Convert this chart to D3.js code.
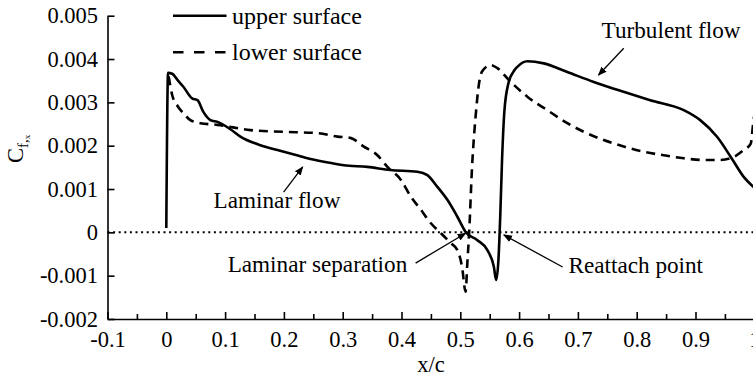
<!DOCTYPE html>
<html>
<head>
<meta charset="utf-8">
<script src="https://cdn.jsdelivr.net/npm/d3@7"></script>
<style>
  body { margin: 0; background: #fff; }
</style>
</head>
<body>
<svg id="chart"></svg>
<script>
// x/c, Cf
let upperSurface = [
  [0, 0.0001], [0.003, 0.00368], [0.01, 0.00366], [0.02, 0.0035], [0.029, 0.00336],
  [0.044, 0.00309], [0.053, 0.00305], [0.063, 0.00278], [0.075, 0.00259], [0.087, 0.00255],
  [0.109, 0.00238], [0.126, 0.00221], [0.16, 0.00201], [0.189, 0.0019], [0.211, 0.00182],
  [0.24, 0.00171], [0.268, 0.00163], [0.302, 0.00155], [0.342, 0.00151], [0.381, 0.00144],
  [0.427, 0.0014], [0.444, 0.00132], [0.461, 0.00105], [0.478, 0.00075], [0.495, 0.00036],
  [0.509, 0.00001], [0.529, -0.00018], [0.546, -0.00041], [0.557, -0.00079], [0.561, -0.0011],
  [0.565, -0.0006], [0.568, 0.0004], [0.571, 0.00167], [0.575, 0.0028], [0.582, 0.00345],
  [0.59, 0.0037], [0.597, 0.00382], [0.614, 0.00395], [0.642, 0.0039], [0.682, 0.0037],
  [0.727, 0.00347], [0.767, 0.00329], [0.823, 0.00305], [0.88, 0.00282], [0.908, 0.00259],
  [0.937, 0.0022], [0.96, 0.00174], [0.982, 0.00128], [1.0, 0.00103]
];
let lowerSurface = [
  [0.004, 0.0036], [0.01, 0.00317], [0.02, 0.0029], [0.029, 0.00275], [0.041, 0.00259],
  [0.058, 0.00252], [0.087, 0.00248], [0.143, 0.00236], [0.199, 0.00232], [0.257, 0.00229],
  [0.291, 0.00221], [0.313, 0.00218], [0.336, 0.00198], [0.359, 0.00178], [0.376, 0.00151],
  [0.399, 0.00121], [0.416, 0.00082], [0.433, 0.00052], [0.45, 0.00021], [0.467, -0.00002],
  [0.484, -0.00025], [0.495, -0.00041], [0.503, -0.0008], [0.509, -0.00137], [0.512, -0.0007],
  [0.515, -0.00002], [0.52, 0.00151], [0.526, 0.00267], [0.532, 0.00345], [0.537, 0.00371],
  [0.552, 0.00386], [0.563, 0.00379], [0.583, 0.00351], [0.614, 0.00313], [0.648, 0.00282],
  [0.682, 0.00252], [0.71, 0.00232], [0.744, 0.00213], [0.778, 0.00198], [0.812, 0.00186],
  [0.846, 0.00178], [0.88, 0.00171], [0.914, 0.00167], [0.942, 0.00167], [0.965, 0.00174],
  [0.982, 0.0019], [0.994, 0.00205], [0.998, 0.0025], [1.0, 0.0027]
];

let xTicks = [-0.1, 0, 0.1, 0.2, 0.3, 0.4, 0.5, 0.6, 0.7, 0.8, 0.9, 1.0];
let xMinorTicks = [-0.05, 0.05, 0.15, 0.25, 0.35, 0.45, 0.55, 0.65, 0.75, 0.85, 0.95];
let yTicks = [-0.002, -0.001, 0, 0.001, 0.002, 0.003, 0.004, 0.005];

let legendItems = [
  {label: 'upper surface', dash: null},
  {label: 'lower surface', dash: '10.5,10.5'}
];

// text: label, anchor in data units; arrow: tail -> tip in data units
let notes = [
  {text: 'Turbulent flow', at: [0.7403, 0.004484], from: [0.778, 0.00425], to: [0.735, 0.00363]},
  {text: 'Laminar flow', at: [0.0804, 0.00056], from: [0.1995, 0.00093], to: [0.232, 0.00151]},
  {text: 'Laminar separation', at: [0.1043, -0.000907], from: [0.424, -0.00071], to: [0.509, -0.00002]},
  {text: 'Reattach point', at: [0.684, -0.00094], from: [0.674, -0.0008], to: [0.574, -0.00006]}
];

let width = 753, height = 379;
let serif = '"Liberation Serif", Tinos, "Times New Roman", "DejaVu Serif", serif';
let fontSize = '22.5px';

let svg = d3.select('#chart')
    .attr('width', width)
    .attr('height', height)
    .style('font-family', serif);

let x = d3.scaleLinear().domain([-0.1, 1.0]).range([107.5, 754.3]);
let y = d3.scaleLinear().domain([-0.002, 0.005]).range([319, 15.7]);

// zero line
svg.append('line')
    .attr('x1', x(-0.1)).attr('x2', x(1.0))
    .attr('y1', y(0)).attr('y2', y(0))
    .attr('stroke', '#000')
    .attr('stroke-width', 2)
    .attr('stroke-dasharray', '2,3.6');

// axes
svg.append('g')
    .attr('transform', `translate(0,${y(-0.002)})`)
    .call(d3.axisBottom(x).tickValues(xTicks).tickSize(-7).tickSizeOuter(0).tickPadding(12)
        .tickFormat(d => String(+d.toFixed(1))));
svg.append('g')
    .attr('transform', `translate(0,${y(-0.002)})`)
    .call(d3.axisBottom(x).tickValues(xMinorTicks).tickSize(-5).tickSizeOuter(0).tickFormat(''))
    .select('.domain').remove();

svg.append('g')
    .attr('transform', `translate(${x(-0.1)},0)`)
    .call(d3.axisLeft(y).tickValues(yTicks).tickSize(-7).tickSizeOuter(0).tickPadding(9.5)
        .tickFormat(d => String(+d.toFixed(3))));

svg.selectAll('g').attr('font-family', null).attr('font-size', null);
svg.selectAll('.domain, .tick line').attr('stroke', '#000').attr('stroke-width', 1.6);
svg.selectAll('.tick text')
    .style('font-family', serif)
    .style('font-size', fontSize)
    .attr('fill', '#000');

// curves
let line = d3.line()
    .x(d => x(d[0]))
    .y(d => y(d[1]))
    .curve(d3.curveMonotoneX);

svg.append('path')
    .datum(upperSurface)
    .attr('d', line)
    .attr('fill', 'none')
    .attr('stroke', '#000')
    .attr('stroke-width', 2.6)
    .attr('stroke-linejoin', 'round');

svg.append('path')
    .datum(lowerSurface)
    .attr('d', line)
    .attr('fill', 'none')
    .attr('stroke', '#000')
    .attr('stroke-width', 2.6)
    .attr('stroke-dasharray', '9,6');

// legend
let legend = svg.selectAll('.legend')
    .data(legendItems)
    .enter()
    .append('g')
    .classed('legend', true)
    .attr('transform', (d, i) => `translate(173,${15.7 + i * 36.6})`);
legend.append('line')
    .attr('x1', 0).attr('x2', 53.5)
    .attr('stroke', '#000')
    .attr('stroke-width', 2.6)
    .attr('stroke-dasharray', d => d.dash);
legend.append('text')
    .attr('x', 59)
    .attr('y', 8)
    .style('font-family', serif)
    .style('font-size', '24px')
    .text(d => d.label);

// annotations
svg.append('defs').append('marker')
    .attr('id', 'head')
    .attr('viewBox', '0 0 10 10')
    .attr('refX', 9).attr('refY', 5)
    .attr('markerWidth', 9).attr('markerHeight', 9)
    .attr('markerUnits', 'userSpaceOnUse')
    .attr('orient', 'auto')
    .append('path')
    .attr('d', 'M0,1 L10,5 L0,9 Z')
    .attr('fill', '#000');

let note = svg.selectAll('.note')
    .data(notes)
    .enter()
    .append('g')
    .classed('note', true);
note.append('text')
    .attr('x', d => x(d.at[0]))
    .attr('y', d => y(d.at[1]))
    .style('font-family', serif)
    .style('font-size', '23.2px')
    .text(d => d.text);
note.append('line')
    .attr('x1', d => x(d.from[0])).attr('y1', d => y(d.from[1]))
    .attr('x2', d => x(d.to[0])).attr('y2', d => y(d.to[1]))
    .attr('stroke', '#000')
    .attr('stroke-width', 1.3)
    .attr('marker-end', 'url(#head)');

// axis titles
svg.append('text')
    .attr('x', (x(-0.1) + x(1.0)) / 2)
    .attr('y', 372)
    .attr('text-anchor', 'middle')
    .style('font-family', serif)
    .style('font-size', fontSize)
    .text('x/c');

let yTitle = svg.append('text')
    .attr('transform', 'translate(23,163) rotate(-90)')
    .style('font-family', serif)
    .style('font-size', fontSize);
yTitle.append('tspan').text('C');
yTitle.append('tspan').attr('dy', 5).style('font-size', '15px').text('f,');
yTitle.append('tspan').attr('dy', 2).style('font-size', '9px').text('x');
</script>
</body>
</html>
